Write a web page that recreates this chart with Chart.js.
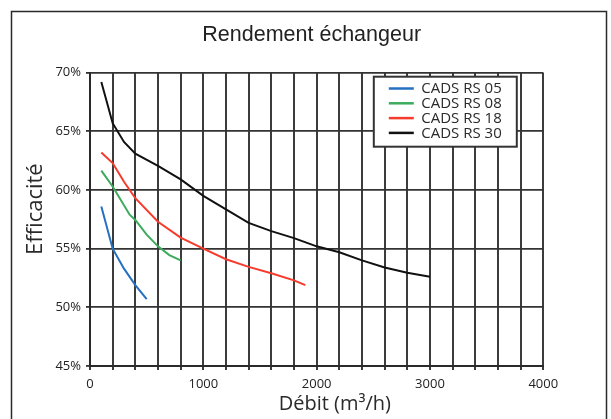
<!DOCTYPE html>
<html>
<head>
<meta charset="utf-8">
<script src="https://cdn.jsdelivr.net/npm/chart.js@4"></script>
<style>
  html, body { margin: 0; padding: 0; background: #fff; }
  #wrap { width: 611px; height: 419px; position: relative; }
</style>
</head>
<body>
<div id="wrap"><canvas id="c" width="611" height="419"></canvas></div>
<script>
// ---- Data ----
const seriesLabels = ['CADS RS 05', 'CADS RS 08', 'CADS RS 18', 'CADS RS 30'];
const seriesColors = ['#2470c2', '#3cab5c', '#f53b2c', '#111111'];

const flowRS05 = [100, 200, 300, 400, 500];
const effRS05  = [58.6, 55.0, 53.3, 51.9, 50.7];

const flowRS08 = [100, 200, 350, 400, 500, 600, 700, 800];
const effRS08  = [61.65, 60.3, 57.9, 57.45, 56.2, 55.2, 54.45, 54.0];

const flowRS18 = [100, 200, 300, 400, 600, 800, 1000, 1200, 1400, 1600, 1800, 1900];
const effRS18  = [63.2, 62.3, 60.7, 59.3, 57.3, 55.95, 55.0, 54.1, 53.45, 52.9, 52.3, 51.9];

const flowRS30 = [100, 200, 300, 400, 600, 800, 1000, 1200, 1400, 1600, 1800, 2000, 2200, 2400, 2600, 2800, 3000];
const effRS30  = [69.2, 65.7, 64.1, 63.1, 62.05, 60.9, 59.5, 58.35, 57.2, 56.5, 55.9, 55.2, 54.7, 54.0, 53.4, 52.95, 52.6];

const xMin = 0, xMax = 4000, xGridStep = 200, xLabelStep = 1000;
const yMin = 45, yMax = 70, yStep = 5;

const titleText = 'Rendement échangeur';
const xTitleText = 'Débit (m³/h)';
const yTitleText = 'Efficacité';

// ---- Build datasets ----
function pts(xs, ys) { return xs.map((x, i) => ({ x: x, y: ys[i] })); }
function range(a, b, s) { const out = []; for (let v = a; v <= b + 1e-9; v += s) out.push(v); return out; }
const allFlows = [flowRS05, flowRS08, flowRS18, flowRS30];
const allEffs = [effRS05, effRS08, effRS18, effRS30];
const datasets = seriesLabels.map((lab, i) => ({
  label: lab,
  data: pts(allFlows[i], allEffs[i]),
  borderColor: seriesColors[i],
  borderWidth: 2,
  pointRadius: 0
}));

const xGridValues = range(xMin, xMax, xGridStep);

const decor = {
  id: 'decor',
  afterDraw(chart) {
    const ctx = chart.ctx;
    const ca = chart.chartArea;
    ctx.save();
    ctx.strokeStyle = '#2a2a2a';
    ctx.lineWidth = 1.5;
    ctx.strokeRect(11.5, 11.5, 595, 430);

    ctx.fillStyle = '#222';
    ctx.font = "21.5px 'Liberation Sans', Arial, sans-serif";
    ctx.textAlign = 'center';
    ctx.textBaseline = 'alphabetic';
    ctx.fillText(titleText, 311.7, 41);

    ctx.fillStyle = '#2a2a2a';
    ctx.font = "20px 'Open Sans', 'Noto Sans', sans-serif";
    ctx.fillText(xTitleText, ca.left + (ca.right - ca.left) * 0.54, 410);

    ctx.save();
    ctx.translate(41.5, ca.top + (ca.bottom - ca.top) * 0.465);
    ctx.rotate(-Math.PI / 2);
    ctx.font = "22px 'Open Sans', 'Noto Sans', sans-serif";
    ctx.fillText(yTitleText, 0, 0);
    ctx.restore();

    const bx = ca.right - 169.5, by = ca.top + 4, bw = 143, bh = 70;
    ctx.fillStyle = '#fff';
    ctx.fillRect(bx, by, bw, bh);
    ctx.strokeStyle = '#333';
    ctx.lineWidth = 2;
    ctx.strokeRect(bx, by, bw, bh);
    ctx.font = "15px 'Open Sans', 'Noto Sans', sans-serif";
    ctx.textAlign = 'left';
    ctx.textBaseline = 'middle';
    chart.data.datasets.forEach((ds, i) => {
      const ry = by + 11.8 + i * 14.8;
      ctx.strokeStyle = ds.borderColor;
      ctx.lineWidth = 2.5;
      ctx.beginPath();
      ctx.moveTo(bx + 15, ry);
      ctx.lineTo(bx + 40, ry);
      ctx.stroke();
      ctx.fillStyle = '#2a2a2a';
      ctx.fillText(ds.label, bx + 47.5, ry + 0.5);
    });
    ctx.restore();
  }
};

new Chart(document.getElementById('c'), {
  type: 'line',
  data: { datasets: datasets },
  options: {
    responsive: false,
    animation: false,
    devicePixelRatio: 1,
    layout: { padding: { left: 0, right: 67.7, top: 72.7, bottom: 0 } },
    plugins: { legend: { display: false }, title: { display: false } },
    scales: {
      x: {
        type: 'linear', min: xMin, max: xMax,
        afterFit(scale) { scale.height = 53; },
        afterBuildTicks(scale) { scale.ticks = xGridValues.map(v => ({ value: v })); },
        ticks: {
          autoSkip: false, maxRotation: 0, minRotation: 0, padding: 6, color: '#222',
          font: { family: "'Open Sans', sans-serif", size: 13 },
          callback: v => (v % xLabelStep === 0 ? String(v) : ' ')
        },
        grid: { color: '#3c3c3c', lineWidth: 2, tickLength: 4 },
        border: { color: '#2a2a2a', width: 2 }
      },
      y: {
        min: yMin, max: yMax,
        afterFit(scale) { scale.width = 90; },
        ticks: {
          stepSize: yStep, padding: 5, color: '#222',
          font: { family: "'Open Sans', sans-serif", size: 13 },
          callback: v => v + '%'
        },
        grid: { color: '#333', lineWidth: 1.8, tickLength: 4 },
        border: { color: '#2a2a2a', width: 2 }
      }
    }
  },
  plugins: [decor]
});
</script>
</body>
</html>
